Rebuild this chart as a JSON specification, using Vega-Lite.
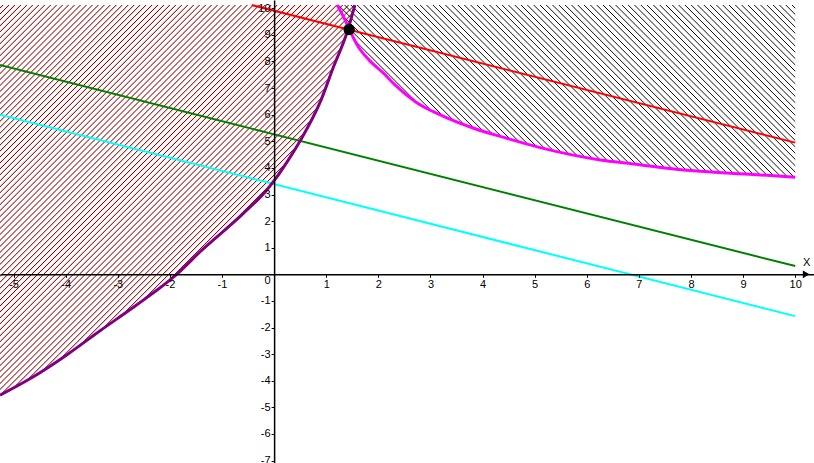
{
"$schema": "https://vega.github.io/schema/vega-lite/v6.json",
"width": 814, "height": 463, "autosize": {"type": "none"}, "padding": 0,
"background": "white",
"config": {"view": {"stroke": null}},
"datasets": {
"purple": [{"x":-5.26,"y":-4.54},{"x":-4.62,"y":-3.85},{"x":-3.98,"y":-3.03},{"x":-3.34,"y":-2.12},{"x":-2.7,"y":-1.24},{"x":-2.51,"y":-0.97},{"x":-1.87,"y":0},{"x":-1.42,"y":0.85},{"x":-0.59,"y":2.29},{"x":-0.14,"y":3.17},{"x":0,"y":3.52},{"x":0.24,"y":4.2},{"x":0.5,"y":5.02},{"x":0.9,"y":6.55},{"x":1.14,"y":7.8},{"x":1.4,"y":9.1},{"x":1.55,"y":10.12}],
"magenta": [{"x":1.21,"y":10.12},{"x":1.36,"y":9.56},{"x":1.44,"y":9.22},{"x":1.6,"y":8.6},{"x":1.82,"y":8.06},{"x":2.1,"y":7.56},{"x":2.32,"y":7.12},{"x":2.71,"y":6.49},{"x":3.19,"y":5.99},{"x":3.83,"y":5.49},{"x":4.47,"y":5.11},{"x":5.07,"y":4.78},{"x":6.26,"y":4.3},{"x":6.9,"y":4.15},{"x":7.54,"y":3.99},{"x":8.18,"y":3.87},{"x":8.82,"y":3.79},{"x":9.46,"y":3.72},{"x":10,"y":3.65}],
"lines": [{"line":"red","x":-0.43,"y":10.12},{"line":"red","x":10,"y":4.95},{"line":"green","x":-5.26,"y":7.87},{"line":"green","x":10,"y":0.31},{"line":"cyan","x":-5.26,"y":6.0},{"line":"cyan","x":10,"y":-1.57}],
"dot": [{"x":1.44,"y":9.2}],
"arrow": [{"x":10.21,"y":0}],
"label": [{"x":10.22,"y":0.44,"text":"X"}]
},
"encoding": {
"x": {"field":"x","type":"quantitative","scale":{"domain":[-5.26,10.36],"nice":false,"zero":false},
 "axis":{"title":null,"orient":"bottom","offset":{"expr":"scale('y',0)-height"},"values":[-5,-4,-3,-2,-1,1,2,3,4,5,6,7,8,9,10],"labelExpr":"''+datum.value","grid":false,"domainColor":"#000","domainWidth":1.5,"tickColor":"#000","tickSize":3,"tickWidth":1,"labelColor":"#000","labelFont":"Liberation Sans","labelFontSize":11,"labelPadding":1,"labelFlush":false,"labelOverlap":false,"zindex":1}},
"y": {"field":"y","type":"quantitative","stack":null,"scale":{"domain":[-7.09,10.31],"nice":false,"zero":false},
 "axis":{"title":null,"orient":"left","offset":{"expr":"-scale('x',0)"},"values":[-7,-6,-5,-4,-3,-2,-1,0,1,2,3,4,5,6,7,8,9,10],"labelExpr":"''+datum.value","labelBaseline":{"condition":{"test":"datum.value===0","value":"top"},"value":"middle"},"grid":false,"domainColor":"#000","domainWidth":1.5,"tickColor":"#000","tickSize":3,"tickWidth":1,"labelColor":"#000","labelFont":"Liberation Sans","labelFontSize":11,"labelPadding":1,"labelFlush":false,"labelOverlap":false,"zindex":1}}
},
"layer": [
{"data":{"name":"purple"},"mark":{"type":"area","interpolate":"monotone","fill":{"gradient":"linear","x1":0,"y1":0,"x2":0.9506,"y2":1.0449,"stops":[
{"offset":0.0025,"color":"#8000"},{"offset":0.004,"color":"#800"},{"offset":0.0055,"color":"#8000"},
{"offset":0.0105,"color":"#8000"},{"offset":0.012,"color":"#800"},{"offset":0.0135,"color":"#8000"},
{"offset":0.0185,"color":"#8000"},{"offset":0.02,"color":"#800"},{"offset":0.0215,"color":"#8000"},
{"offset":0.0265,"color":"#8000"},{"offset":0.028,"color":"#800"},{"offset":0.0295,"color":"#8000"},
{"offset":0.0345,"color":"#8000"},{"offset":0.036,"color":"#800"},{"offset":0.0375,"color":"#8000"},
{"offset":0.0425,"color":"#8000"},{"offset":0.044,"color":"#800"},{"offset":0.0455,"color":"#8000"},
{"offset":0.0505,"color":"#8000"},{"offset":0.052,"color":"#800"},{"offset":0.0535,"color":"#8000"},
{"offset":0.0585,"color":"#8000"},{"offset":0.06,"color":"#800"},{"offset":0.0615,"color":"#8000"},
{"offset":0.0665,"color":"#8000"},{"offset":0.068,"color":"#800"},{"offset":0.0695,"color":"#8000"},
{"offset":0.0745,"color":"#8000"},{"offset":0.076,"color":"#800"},{"offset":0.0775,"color":"#8000"},
{"offset":0.0825,"color":"#8000"},{"offset":0.084,"color":"#800"},{"offset":0.0855,"color":"#8000"},
{"offset":0.0905,"color":"#8000"},{"offset":0.092,"color":"#800"},{"offset":0.0935,"color":"#8000"},
{"offset":0.0985,"color":"#8000"},{"offset":0.1,"color":"#800"},{"offset":0.1015,"color":"#8000"},
{"offset":0.1065,"color":"#8000"},{"offset":0.108,"color":"#800"},{"offset":0.1095,"color":"#8000"},
{"offset":0.1145,"color":"#8000"},{"offset":0.116,"color":"#800"},{"offset":0.1175,"color":"#8000"},
{"offset":0.1225,"color":"#8000"},{"offset":0.124,"color":"#800"},{"offset":0.1255,"color":"#8000"},
{"offset":0.1305,"color":"#8000"},{"offset":0.132,"color":"#800"},{"offset":0.1335,"color":"#8000"},
{"offset":0.1385,"color":"#8000"},{"offset":0.14,"color":"#800"},{"offset":0.1415,"color":"#8000"},
{"offset":0.1465,"color":"#8000"},{"offset":0.148,"color":"#800"},{"offset":0.1495,"color":"#8000"},
{"offset":0.1545,"color":"#8000"},{"offset":0.156,"color":"#800"},{"offset":0.1575,"color":"#8000"},
{"offset":0.1625,"color":"#8000"},{"offset":0.164,"color":"#800"},{"offset":0.1655,"color":"#8000"},
{"offset":0.1705,"color":"#8000"},{"offset":0.172,"color":"#800"},{"offset":0.1735,"color":"#8000"},
{"offset":0.1785,"color":"#8000"},{"offset":0.18,"color":"#800"},{"offset":0.1815,"color":"#8000"},
{"offset":0.1865,"color":"#8000"},{"offset":0.188,"color":"#800"},{"offset":0.1895,"color":"#8000"},
{"offset":0.1945,"color":"#8000"},{"offset":0.196,"color":"#800"},{"offset":0.1975,"color":"#8000"},
{"offset":0.2025,"color":"#8000"},{"offset":0.204,"color":"#800"},{"offset":0.2055,"color":"#8000"},
{"offset":0.2105,"color":"#8000"},{"offset":0.212,"color":"#800"},{"offset":0.2135,"color":"#8000"},
{"offset":0.2185,"color":"#8000"},{"offset":0.22,"color":"#800"},{"offset":0.2215,"color":"#8000"},
{"offset":0.2265,"color":"#8000"},{"offset":0.228,"color":"#800"},{"offset":0.2295,"color":"#8000"},
{"offset":0.2345,"color":"#8000"},{"offset":0.236,"color":"#800"},{"offset":0.2375,"color":"#8000"},
{"offset":0.2425,"color":"#8000"},{"offset":0.244,"color":"#800"},{"offset":0.2455,"color":"#8000"},
{"offset":0.2505,"color":"#8000"},{"offset":0.252,"color":"#800"},{"offset":0.2535,"color":"#8000"},
{"offset":0.2585,"color":"#8000"},{"offset":0.26,"color":"#800"},{"offset":0.2615,"color":"#8000"},
{"offset":0.2665,"color":"#8000"},{"offset":0.268,"color":"#800"},{"offset":0.2695,"color":"#8000"},
{"offset":0.2745,"color":"#8000"},{"offset":0.276,"color":"#800"},{"offset":0.2775,"color":"#8000"},
{"offset":0.2825,"color":"#8000"},{"offset":0.284,"color":"#800"},{"offset":0.2855,"color":"#8000"},
{"offset":0.2905,"color":"#8000"},{"offset":0.292,"color":"#800"},{"offset":0.2935,"color":"#8000"},
{"offset":0.2985,"color":"#8000"},{"offset":0.3,"color":"#800"},{"offset":0.3015,"color":"#8000"},
{"offset":0.3065,"color":"#8000"},{"offset":0.308,"color":"#800"},{"offset":0.3095,"color":"#8000"},
{"offset":0.3145,"color":"#8000"},{"offset":0.316,"color":"#800"},{"offset":0.3175,"color":"#8000"},
{"offset":0.3225,"color":"#8000"},{"offset":0.324,"color":"#800"},{"offset":0.3255,"color":"#8000"},
{"offset":0.3305,"color":"#8000"},{"offset":0.332,"color":"#800"},{"offset":0.3335,"color":"#8000"},
{"offset":0.3385,"color":"#8000"},{"offset":0.34,"color":"#800"},{"offset":0.3415,"color":"#8000"},
{"offset":0.3465,"color":"#8000"},{"offset":0.348,"color":"#800"},{"offset":0.3495,"color":"#8000"},
{"offset":0.3545,"color":"#8000"},{"offset":0.356,"color":"#800"},{"offset":0.3575,"color":"#8000"},
{"offset":0.3625,"color":"#8000"},{"offset":0.364,"color":"#800"},{"offset":0.3655,"color":"#8000"},
{"offset":0.3705,"color":"#8000"},{"offset":0.372,"color":"#800"},{"offset":0.3735,"color":"#8000"},
{"offset":0.3785,"color":"#8000"},{"offset":0.38,"color":"#800"},{"offset":0.3815,"color":"#8000"},
{"offset":0.3865,"color":"#8000"},{"offset":0.388,"color":"#800"},{"offset":0.3895,"color":"#8000"},
{"offset":0.3945,"color":"#8000"},{"offset":0.396,"color":"#800"},{"offset":0.3975,"color":"#8000"},
{"offset":0.4025,"color":"#8000"},{"offset":0.404,"color":"#800"},{"offset":0.4055,"color":"#8000"},
{"offset":0.4105,"color":"#8000"},{"offset":0.412,"color":"#800"},{"offset":0.4135,"color":"#8000"},
{"offset":0.4185,"color":"#8000"},{"offset":0.42,"color":"#800"},{"offset":0.4215,"color":"#8000"},
{"offset":0.4265,"color":"#8000"},{"offset":0.428,"color":"#800"},{"offset":0.4295,"color":"#8000"},
{"offset":0.4345,"color":"#8000"},{"offset":0.436,"color":"#800"},{"offset":0.4375,"color":"#8000"},
{"offset":0.4425,"color":"#8000"},{"offset":0.444,"color":"#800"},{"offset":0.4455,"color":"#8000"},
{"offset":0.4505,"color":"#8000"},{"offset":0.452,"color":"#800"},{"offset":0.4535,"color":"#8000"},
{"offset":0.4585,"color":"#8000"},{"offset":0.46,"color":"#800"},{"offset":0.4615,"color":"#8000"},
{"offset":0.4665,"color":"#8000"},{"offset":0.468,"color":"#800"},{"offset":0.4695,"color":"#8000"},
{"offset":0.4745,"color":"#8000"},{"offset":0.476,"color":"#800"},{"offset":0.4775,"color":"#8000"},
{"offset":0.4825,"color":"#8000"},{"offset":0.484,"color":"#800"},{"offset":0.4855,"color":"#8000"},
{"offset":0.4905,"color":"#8000"},{"offset":0.492,"color":"#800"},{"offset":0.4935,"color":"#8000"},
{"offset":0.4985,"color":"#8000"},{"offset":0.5,"color":"#800"},{"offset":0.5015,"color":"#8000"},
{"offset":0.5065,"color":"#8000"},{"offset":0.508,"color":"#800"},{"offset":0.5095,"color":"#8000"},
{"offset":0.5145,"color":"#8000"},{"offset":0.516,"color":"#800"},{"offset":0.5175,"color":"#8000"},
{"offset":0.5225,"color":"#8000"},{"offset":0.524,"color":"#800"},{"offset":0.5255,"color":"#8000"},
{"offset":0.5305,"color":"#8000"},{"offset":0.532,"color":"#800"},{"offset":0.5335,"color":"#8000"},
{"offset":0.5385,"color":"#8000"},{"offset":0.54,"color":"#800"},{"offset":0.5415,"color":"#8000"},
{"offset":0.5465,"color":"#8000"},{"offset":0.548,"color":"#800"},{"offset":0.5495,"color":"#8000"},
{"offset":0.5545,"color":"#8000"},{"offset":0.556,"color":"#800"},{"offset":0.5575,"color":"#8000"},
{"offset":0.5625,"color":"#8000"},{"offset":0.564,"color":"#800"},{"offset":0.5655,"color":"#8000"},
{"offset":0.5705,"color":"#8000"},{"offset":0.572,"color":"#800"},{"offset":0.5735,"color":"#8000"},
{"offset":0.5785,"color":"#8000"},{"offset":0.58,"color":"#800"},{"offset":0.5815,"color":"#8000"},
{"offset":0.5865,"color":"#8000"},{"offset":0.588,"color":"#800"},{"offset":0.5895,"color":"#8000"},
{"offset":0.5945,"color":"#8000"},{"offset":0.596,"color":"#800"},{"offset":0.5975,"color":"#8000"},
{"offset":0.6025,"color":"#8000"},{"offset":0.604,"color":"#800"},{"offset":0.6055,"color":"#8000"},
{"offset":0.6105,"color":"#8000"},{"offset":0.612,"color":"#800"},{"offset":0.6135,"color":"#8000"},
{"offset":0.6185,"color":"#8000"},{"offset":0.62,"color":"#800"},{"offset":0.6215,"color":"#8000"},
{"offset":0.6265,"color":"#8000"},{"offset":0.628,"color":"#800"},{"offset":0.6295,"color":"#8000"},
{"offset":0.6345,"color":"#8000"},{"offset":0.636,"color":"#800"},{"offset":0.6375,"color":"#8000"},
{"offset":0.6425,"color":"#8000"},{"offset":0.644,"color":"#800"},{"offset":0.6455,"color":"#8000"},
{"offset":0.6505,"color":"#8000"},{"offset":0.652,"color":"#800"},{"offset":0.6535,"color":"#8000"},
{"offset":0.6585,"color":"#8000"},{"offset":0.66,"color":"#800"},{"offset":0.6615,"color":"#8000"},
{"offset":0.6665,"color":"#8000"},{"offset":0.668,"color":"#800"},{"offset":0.6695,"color":"#8000"},
{"offset":0.6745,"color":"#8000"},{"offset":0.676,"color":"#800"},{"offset":0.6775,"color":"#8000"},
{"offset":0.6825,"color":"#8000"},{"offset":0.684,"color":"#800"},{"offset":0.6855,"color":"#8000"},
{"offset":0.6905,"color":"#8000"},{"offset":0.692,"color":"#800"},{"offset":0.6935,"color":"#8000"},
{"offset":0.6985,"color":"#8000"},{"offset":0.7,"color":"#800"},{"offset":0.7015,"color":"#8000"},
{"offset":0.7065,"color":"#8000"},{"offset":0.708,"color":"#800"},{"offset":0.7095,"color":"#8000"},
{"offset":0.7145,"color":"#8000"},{"offset":0.716,"color":"#800"},{"offset":0.7175,"color":"#8000"},
{"offset":0.7225,"color":"#8000"},{"offset":0.724,"color":"#800"},{"offset":0.7255,"color":"#8000"},
{"offset":0.7305,"color":"#8000"},{"offset":0.732,"color":"#800"},{"offset":0.7335,"color":"#8000"},
{"offset":0.7385,"color":"#8000"},{"offset":0.74,"color":"#800"},{"offset":0.7415,"color":"#8000"},
{"offset":0.7465,"color":"#8000"},{"offset":0.748,"color":"#800"},{"offset":0.7495,"color":"#8000"},
{"offset":0.7545,"color":"#8000"},{"offset":0.756,"color":"#800"},{"offset":0.7575,"color":"#8000"},
{"offset":0.7625,"color":"#8000"},{"offset":0.764,"color":"#800"},{"offset":0.7655,"color":"#8000"},
{"offset":0.7705,"color":"#8000"},{"offset":0.772,"color":"#800"},{"offset":0.7735,"color":"#8000"},
{"offset":0.7785,"color":"#8000"},{"offset":0.78,"color":"#800"},{"offset":0.7815,"color":"#8000"},
{"offset":0.7865,"color":"#8000"},{"offset":0.788,"color":"#800"},{"offset":0.7895,"color":"#8000"},
{"offset":0.7945,"color":"#8000"},{"offset":0.796,"color":"#800"},{"offset":0.7975,"color":"#8000"},
{"offset":0.8025,"color":"#8000"},{"offset":0.804,"color":"#800"},{"offset":0.8055,"color":"#8000"},
{"offset":0.8105,"color":"#8000"},{"offset":0.812,"color":"#800"},{"offset":0.8135,"color":"#8000"},
{"offset":0.8185,"color":"#8000"},{"offset":0.82,"color":"#800"},{"offset":0.8215,"color":"#8000"},
{"offset":0.8265,"color":"#8000"},{"offset":0.828,"color":"#800"},{"offset":0.8295,"color":"#8000"},
{"offset":0.8345,"color":"#8000"},{"offset":0.836,"color":"#800"},{"offset":0.8375,"color":"#8000"},
{"offset":0.8425,"color":"#8000"},{"offset":0.844,"color":"#800"},{"offset":0.8455,"color":"#8000"},
{"offset":0.8505,"color":"#8000"},{"offset":0.852,"color":"#800"},{"offset":0.8535,"color":"#8000"},
{"offset":0.8585,"color":"#8000"},{"offset":0.86,"color":"#800"},{"offset":0.8615,"color":"#8000"},
{"offset":0.8665,"color":"#8000"},{"offset":0.868,"color":"#800"},{"offset":0.8695,"color":"#8000"},
{"offset":0.8745,"color":"#8000"},{"offset":0.876,"color":"#800"},{"offset":0.8775,"color":"#8000"},
{"offset":0.8825,"color":"#8000"},{"offset":0.884,"color":"#800"},{"offset":0.8855,"color":"#8000"},
{"offset":0.8905,"color":"#8000"},{"offset":0.892,"color":"#800"},{"offset":0.8935,"color":"#8000"},
{"offset":0.8985,"color":"#8000"},{"offset":0.9,"color":"#800"},{"offset":0.9015,"color":"#8000"},
{"offset":0.9065,"color":"#8000"},{"offset":0.908,"color":"#800"},{"offset":0.9095,"color":"#8000"},
{"offset":0.9145,"color":"#8000"},{"offset":0.916,"color":"#800"},{"offset":0.9175,"color":"#8000"},
{"offset":0.9225,"color":"#8000"},{"offset":0.924,"color":"#800"},{"offset":0.9255,"color":"#8000"},
{"offset":0.9305,"color":"#8000"},{"offset":0.932,"color":"#800"},{"offset":0.9335,"color":"#8000"},
{"offset":0.9385,"color":"#8000"},{"offset":0.94,"color":"#800"},{"offset":0.9415,"color":"#8000"},
{"offset":0.9465,"color":"#8000"},{"offset":0.948,"color":"#800"},{"offset":0.9495,"color":"#8000"},
{"offset":0.9545,"color":"#8000"},{"offset":0.956,"color":"#800"},{"offset":0.9575,"color":"#8000"},
{"offset":0.9625,"color":"#8000"},{"offset":0.964,"color":"#800"},{"offset":0.9655,"color":"#8000"},
{"offset":0.9705,"color":"#8000"},{"offset":0.972,"color":"#800"},{"offset":0.9735,"color":"#8000"},
{"offset":0.9785,"color":"#8000"},{"offset":0.98,"color":"#800"},{"offset":0.9815,"color":"#8000"},
{"offset":0.9865,"color":"#8000"},{"offset":0.988,"color":"#800"},{"offset":0.9895,"color":"#8000"},
{"offset":0.9945,"color":"#8000"},{"offset":0.996,"color":"#800"},{"offset":0.9975,"color":"#8000"}
]}},
 "encoding":{"y2":{"datum":10.12}}},
{"data":{"name":"magenta"},"mark":{"type":"area","interpolate":"monotone","fill":{"gradient":"linear","x1":0,"y1":1,"x2":1.2056,"y2":0.5469,"stops":[
{"offset":0.0035,"color":"#0000"},{"offset":0.005,"color":"#000"},{"offset":0.0065,"color":"#0000"},
{"offset":0.0135,"color":"#0000"},{"offset":0.015,"color":"#000"},{"offset":0.0165,"color":"#0000"},
{"offset":0.0235,"color":"#0000"},{"offset":0.025,"color":"#000"},{"offset":0.0265,"color":"#0000"},
{"offset":0.0335,"color":"#0000"},{"offset":0.035,"color":"#000"},{"offset":0.0365,"color":"#0000"},
{"offset":0.0435,"color":"#0000"},{"offset":0.045,"color":"#000"},{"offset":0.0465,"color":"#0000"},
{"offset":0.0535,"color":"#0000"},{"offset":0.055,"color":"#000"},{"offset":0.0565,"color":"#0000"},
{"offset":0.0635,"color":"#0000"},{"offset":0.065,"color":"#000"},{"offset":0.0665,"color":"#0000"},
{"offset":0.0735,"color":"#0000"},{"offset":0.075,"color":"#000"},{"offset":0.0765,"color":"#0000"},
{"offset":0.0835,"color":"#0000"},{"offset":0.085,"color":"#000"},{"offset":0.0865,"color":"#0000"},
{"offset":0.0935,"color":"#0000"},{"offset":0.095,"color":"#000"},{"offset":0.0965,"color":"#0000"},
{"offset":0.1035,"color":"#0000"},{"offset":0.105,"color":"#000"},{"offset":0.1065,"color":"#0000"},
{"offset":0.1135,"color":"#0000"},{"offset":0.115,"color":"#000"},{"offset":0.1165,"color":"#0000"},
{"offset":0.1235,"color":"#0000"},{"offset":0.125,"color":"#000"},{"offset":0.1265,"color":"#0000"},
{"offset":0.1335,"color":"#0000"},{"offset":0.135,"color":"#000"},{"offset":0.1365,"color":"#0000"},
{"offset":0.1435,"color":"#0000"},{"offset":0.145,"color":"#000"},{"offset":0.1465,"color":"#0000"},
{"offset":0.1535,"color":"#0000"},{"offset":0.155,"color":"#000"},{"offset":0.1565,"color":"#0000"},
{"offset":0.1635,"color":"#0000"},{"offset":0.165,"color":"#000"},{"offset":0.1665,"color":"#0000"},
{"offset":0.1735,"color":"#0000"},{"offset":0.175,"color":"#000"},{"offset":0.1765,"color":"#0000"},
{"offset":0.1835,"color":"#0000"},{"offset":0.185,"color":"#000"},{"offset":0.1865,"color":"#0000"},
{"offset":0.1935,"color":"#0000"},{"offset":0.195,"color":"#000"},{"offset":0.1965,"color":"#0000"},
{"offset":0.2035,"color":"#0000"},{"offset":0.205,"color":"#000"},{"offset":0.2065,"color":"#0000"},
{"offset":0.2135,"color":"#0000"},{"offset":0.215,"color":"#000"},{"offset":0.2165,"color":"#0000"},
{"offset":0.2235,"color":"#0000"},{"offset":0.225,"color":"#000"},{"offset":0.2265,"color":"#0000"},
{"offset":0.2335,"color":"#0000"},{"offset":0.235,"color":"#000"},{"offset":0.2365,"color":"#0000"},
{"offset":0.2435,"color":"#0000"},{"offset":0.245,"color":"#000"},{"offset":0.2465,"color":"#0000"},
{"offset":0.2535,"color":"#0000"},{"offset":0.255,"color":"#000"},{"offset":0.2565,"color":"#0000"},
{"offset":0.2635,"color":"#0000"},{"offset":0.265,"color":"#000"},{"offset":0.2665,"color":"#0000"},
{"offset":0.2735,"color":"#0000"},{"offset":0.275,"color":"#000"},{"offset":0.2765,"color":"#0000"},
{"offset":0.2835,"color":"#0000"},{"offset":0.285,"color":"#000"},{"offset":0.2865,"color":"#0000"},
{"offset":0.2935,"color":"#0000"},{"offset":0.295,"color":"#000"},{"offset":0.2965,"color":"#0000"},
{"offset":0.3035,"color":"#0000"},{"offset":0.305,"color":"#000"},{"offset":0.3065,"color":"#0000"},
{"offset":0.3135,"color":"#0000"},{"offset":0.315,"color":"#000"},{"offset":0.3165,"color":"#0000"},
{"offset":0.3235,"color":"#0000"},{"offset":0.325,"color":"#000"},{"offset":0.3265,"color":"#0000"},
{"offset":0.3335,"color":"#0000"},{"offset":0.335,"color":"#000"},{"offset":0.3365,"color":"#0000"},
{"offset":0.3435,"color":"#0000"},{"offset":0.345,"color":"#000"},{"offset":0.3465,"color":"#0000"},
{"offset":0.3535,"color":"#0000"},{"offset":0.355,"color":"#000"},{"offset":0.3565,"color":"#0000"},
{"offset":0.3635,"color":"#0000"},{"offset":0.365,"color":"#000"},{"offset":0.3665,"color":"#0000"},
{"offset":0.3735,"color":"#0000"},{"offset":0.375,"color":"#000"},{"offset":0.3765,"color":"#0000"},
{"offset":0.3835,"color":"#0000"},{"offset":0.385,"color":"#000"},{"offset":0.3865,"color":"#0000"},
{"offset":0.3935,"color":"#0000"},{"offset":0.395,"color":"#000"},{"offset":0.3965,"color":"#0000"},
{"offset":0.4035,"color":"#0000"},{"offset":0.405,"color":"#000"},{"offset":0.4065,"color":"#0000"},
{"offset":0.4135,"color":"#0000"},{"offset":0.415,"color":"#000"},{"offset":0.4165,"color":"#0000"},
{"offset":0.4235,"color":"#0000"},{"offset":0.425,"color":"#000"},{"offset":0.4265,"color":"#0000"},
{"offset":0.4335,"color":"#0000"},{"offset":0.435,"color":"#000"},{"offset":0.4365,"color":"#0000"},
{"offset":0.4435,"color":"#0000"},{"offset":0.445,"color":"#000"},{"offset":0.4465,"color":"#0000"},
{"offset":0.4535,"color":"#0000"},{"offset":0.455,"color":"#000"},{"offset":0.4565,"color":"#0000"},
{"offset":0.4635,"color":"#0000"},{"offset":0.465,"color":"#000"},{"offset":0.4665,"color":"#0000"},
{"offset":0.4735,"color":"#0000"},{"offset":0.475,"color":"#000"},{"offset":0.4765,"color":"#0000"},
{"offset":0.4835,"color":"#0000"},{"offset":0.485,"color":"#000"},{"offset":0.4865,"color":"#0000"},
{"offset":0.4935,"color":"#0000"},{"offset":0.495,"color":"#000"},{"offset":0.4965,"color":"#0000"},
{"offset":0.5035,"color":"#0000"},{"offset":0.505,"color":"#000"},{"offset":0.5065,"color":"#0000"},
{"offset":0.5135,"color":"#0000"},{"offset":0.515,"color":"#000"},{"offset":0.5165,"color":"#0000"},
{"offset":0.5235,"color":"#0000"},{"offset":0.525,"color":"#000"},{"offset":0.5265,"color":"#0000"},
{"offset":0.5335,"color":"#0000"},{"offset":0.535,"color":"#000"},{"offset":0.5365,"color":"#0000"},
{"offset":0.5435,"color":"#0000"},{"offset":0.545,"color":"#000"},{"offset":0.5465,"color":"#0000"},
{"offset":0.5535,"color":"#0000"},{"offset":0.555,"color":"#000"},{"offset":0.5565,"color":"#0000"},
{"offset":0.5635,"color":"#0000"},{"offset":0.565,"color":"#000"},{"offset":0.5665,"color":"#0000"},
{"offset":0.5735,"color":"#0000"},{"offset":0.575,"color":"#000"},{"offset":0.5765,"color":"#0000"},
{"offset":0.5835,"color":"#0000"},{"offset":0.585,"color":"#000"},{"offset":0.5865,"color":"#0000"},
{"offset":0.5935,"color":"#0000"},{"offset":0.595,"color":"#000"},{"offset":0.5965,"color":"#0000"},
{"offset":0.6035,"color":"#0000"},{"offset":0.605,"color":"#000"},{"offset":0.6065,"color":"#0000"},
{"offset":0.6135,"color":"#0000"},{"offset":0.615,"color":"#000"},{"offset":0.6165,"color":"#0000"},
{"offset":0.6235,"color":"#0000"},{"offset":0.625,"color":"#000"},{"offset":0.6265,"color":"#0000"},
{"offset":0.6335,"color":"#0000"},{"offset":0.635,"color":"#000"},{"offset":0.6365,"color":"#0000"},
{"offset":0.6435,"color":"#0000"},{"offset":0.645,"color":"#000"},{"offset":0.6465,"color":"#0000"},
{"offset":0.6535,"color":"#0000"},{"offset":0.655,"color":"#000"},{"offset":0.6565,"color":"#0000"},
{"offset":0.6635,"color":"#0000"},{"offset":0.665,"color":"#000"},{"offset":0.6665,"color":"#0000"},
{"offset":0.6735,"color":"#0000"},{"offset":0.675,"color":"#000"},{"offset":0.6765,"color":"#0000"},
{"offset":0.6835,"color":"#0000"},{"offset":0.685,"color":"#000"},{"offset":0.6865,"color":"#0000"},
{"offset":0.6935,"color":"#0000"},{"offset":0.695,"color":"#000"},{"offset":0.6965,"color":"#0000"},
{"offset":0.7035,"color":"#0000"},{"offset":0.705,"color":"#000"},{"offset":0.7065,"color":"#0000"},
{"offset":0.7135,"color":"#0000"},{"offset":0.715,"color":"#000"},{"offset":0.7165,"color":"#0000"},
{"offset":0.7235,"color":"#0000"},{"offset":0.725,"color":"#000"},{"offset":0.7265,"color":"#0000"},
{"offset":0.7335,"color":"#0000"},{"offset":0.735,"color":"#000"},{"offset":0.7365,"color":"#0000"},
{"offset":0.7435,"color":"#0000"},{"offset":0.745,"color":"#000"},{"offset":0.7465,"color":"#0000"},
{"offset":0.7535,"color":"#0000"},{"offset":0.755,"color":"#000"},{"offset":0.7565,"color":"#0000"},
{"offset":0.7635,"color":"#0000"},{"offset":0.765,"color":"#000"},{"offset":0.7665,"color":"#0000"},
{"offset":0.7735,"color":"#0000"},{"offset":0.775,"color":"#000"},{"offset":0.7765,"color":"#0000"},
{"offset":0.7835,"color":"#0000"},{"offset":0.785,"color":"#000"},{"offset":0.7865,"color":"#0000"},
{"offset":0.7935,"color":"#0000"},{"offset":0.795,"color":"#000"},{"offset":0.7965,"color":"#0000"},
{"offset":0.8035,"color":"#0000"},{"offset":0.805,"color":"#000"},{"offset":0.8065,"color":"#0000"},
{"offset":0.8135,"color":"#0000"},{"offset":0.815,"color":"#000"},{"offset":0.8165,"color":"#0000"},
{"offset":0.8235,"color":"#0000"},{"offset":0.825,"color":"#000"},{"offset":0.8265,"color":"#0000"},
{"offset":0.8335,"color":"#0000"},{"offset":0.835,"color":"#000"},{"offset":0.8365,"color":"#0000"},
{"offset":0.8435,"color":"#0000"},{"offset":0.845,"color":"#000"},{"offset":0.8465,"color":"#0000"},
{"offset":0.8535,"color":"#0000"},{"offset":0.855,"color":"#000"},{"offset":0.8565,"color":"#0000"},
{"offset":0.8635,"color":"#0000"},{"offset":0.865,"color":"#000"},{"offset":0.8665,"color":"#0000"},
{"offset":0.8735,"color":"#0000"},{"offset":0.875,"color":"#000"},{"offset":0.8765,"color":"#0000"},
{"offset":0.8835,"color":"#0000"},{"offset":0.885,"color":"#000"},{"offset":0.8865,"color":"#0000"},
{"offset":0.8935,"color":"#0000"},{"offset":0.895,"color":"#000"},{"offset":0.8965,"color":"#0000"},
{"offset":0.9035,"color":"#0000"},{"offset":0.905,"color":"#000"},{"offset":0.9065,"color":"#0000"},
{"offset":0.9135,"color":"#0000"},{"offset":0.915,"color":"#000"},{"offset":0.9165,"color":"#0000"},
{"offset":0.9235,"color":"#0000"},{"offset":0.925,"color":"#000"},{"offset":0.9265,"color":"#0000"},
{"offset":0.9335,"color":"#0000"},{"offset":0.935,"color":"#000"},{"offset":0.9365,"color":"#0000"},
{"offset":0.9435,"color":"#0000"},{"offset":0.945,"color":"#000"},{"offset":0.9465,"color":"#0000"},
{"offset":0.9535,"color":"#0000"},{"offset":0.955,"color":"#000"},{"offset":0.9565,"color":"#0000"},
{"offset":0.9635,"color":"#0000"},{"offset":0.965,"color":"#000"},{"offset":0.9665,"color":"#0000"},
{"offset":0.9735,"color":"#0000"},{"offset":0.975,"color":"#000"},{"offset":0.9765,"color":"#0000"},
{"offset":0.9835,"color":"#0000"},{"offset":0.985,"color":"#000"},{"offset":0.9865,"color":"#0000"},
{"offset":0.9935,"color":"#0000"},{"offset":0.995,"color":"#000"},{"offset":0.9965,"color":"#0000"}
]}},
 "encoding":{"y2":{"datum":10.12}}},
{"data":{"name":"lines"},"mark":{"type":"line","strokeWidth":2},
 "encoding":{"color":{"field":"line","type":"nominal","scale":{"domain":["red","green","cyan"],"range":["#ff0000","#008000","#00ffff"]},"legend":null}}},
{"data":{"name":"purple"},"mark":{"type":"line","interpolate":"monotone","color":"#800080","strokeWidth":3},"encoding":{}},
{"data":{"name":"magenta"},"mark":{"type":"line","interpolate":"monotone","color":"#ff00ff","strokeWidth":3},"encoding":{}},
{"data":{"name":"dot"},"mark":{"type":"circle","color":"#000","opacity":1,"size":130},"encoding":{}},
{"data":{"name":"arrow"},"mark":{"type":"point","shape":"triangle-right","filled":true,"color":"#000","opacity":1,"size":60},"encoding":{}},
{"data":{"name":"label"},"mark":{"type":"text","font":"Liberation Sans","fontSize":11,"color":"#000"},"encoding":{"text":{"field":"text"}}}
]
}
